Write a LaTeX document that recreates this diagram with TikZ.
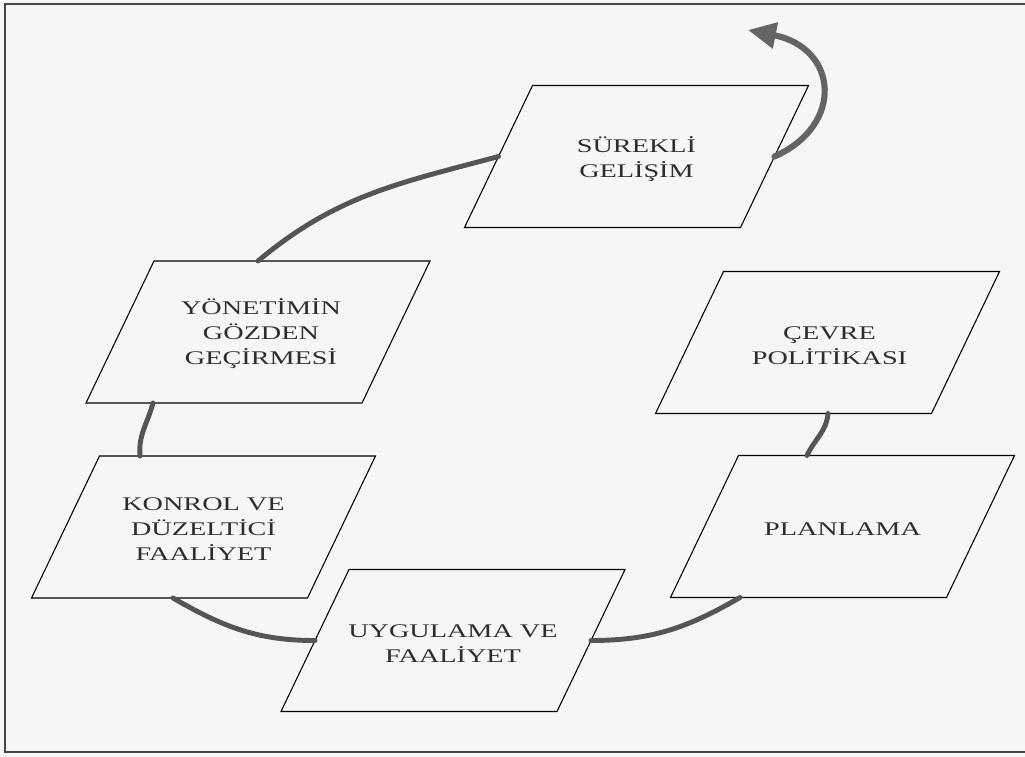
\documentclass[tikz,border=0pt]{standalone}
\usepackage{fontspec}
\setmainfont{Liberation Serif}[FakeStretch=1.46]
\usetikzlibrary{arrows.meta,calc}

\definecolor{paper}{RGB}{246,247,245}
\definecolor{framegray}{RGB}{70,70,70}
\definecolor{linkgray}{RGB}{85,85,85}
\definecolor{arrowgray}{RGB}{100,100,100}
\definecolor{inkgray}{RGB}{45,45,45}

\tikzset{
  stagebox/.style={rectangle, minimum width=207pt, minimum height=106.5pt,
    inner sep=0pt, outer sep=0pt},
  stageedge/.style={draw=black, line width=0.8pt, line join=miter},
  stagetext/.style={text=inkgray, align=center, inner sep=0pt,
    font=\fontsize{14.5pt}{18.75pt}\selectfont},
  link/.style={draw=linkgray, line width=3.7pt, line cap=round},
  loopback/.style={draw=arrowgray, line width=4.6pt, line cap=round,
    -{Triangle[length=21pt,width=19pt]}},
  frameline/.style={draw=framegray, line width=1.6pt}
}

% a slanted stage box: named frame, its parallelogram border and its label
\newcommand{\stage}[4]{%
  \node[stagebox] (#1) at (#2) {};
  \draw[stageedge] ($(#1.north west)+(34,0)$) -- ($(#1.north east)+(34,0)$)
    -- ($(#1.south east)+(-34,0)$) -- ($(#1.south west)+(-34,0)$) -- cycle;
  \node[stagetext] (#1-label) at ($(#1.center)+(#3)$) {#4};
}

\begin{document}
\begin{tikzpicture}[x=0.75pt,y=-0.75pt]
  % page and outer frame
  \fill[paper] (0,0) rectangle (1025,757);
  \useasboundingbox (0,0) rectangle (1025,757);
  \draw[frameline] (1030,4) -- (5,4) -- (5,752) -- (1030,752);

  % stages of the cycle
  \stage{sur}{636.5,156.5}{0,3}{SÜREKLİ\\GELİŞİM}
  \stage{yon}{258,332}{3,2}{YÖNETİMİN\\GÖZDEN\\GEÇİRMESİ}
  \stage{kon}{203.5,527}{0,2}{KONROL VE\\DÜZELTİCİ\\FAALİYET}
  \stage{uyg}{453,640.5}{0,3}{UYGULAMA VE\\FAALİYET}
  \stage{plan}{842.5,526.5}{0,3}{PLANLAMA}
  \stage{cev}{827.5,342.5}{2,3}{ÇEVRE\\POLİTİKASI}

  % attachment points on the stage borders
  \coordinate (yonB)  at ($(yon.south)+(-105,0)$);
  \coordinate (konT)  at ($(kon.north)+(-63.5,0)$);
  \coordinate (konB)  at ($(kon.south)+(-30.5,0)$);
  \coordinate (planB) at ($(plan.south)+(-102.5,0)$);
  \coordinate (planT) at ($(plan.north)+(-35.5,0)$);
  \coordinate (cevB)  at ($(cev.south)+(0.5,0)$);
  \coordinate (loopEnd) at (748,30);

  % connectors
  \draw[link] (cevB) to[out=265,in=65] (planT);
  \draw[link] (planB) to[out=210,in=0] (uyg.east);
  \draw[link] (uyg.west) to[out=180,in=-30] (konB);
  \draw[link] (konT) to[out=95,in=255] (yonB);
  \draw[link] (yon.north) to[out=40,in=195] (sur.west);

  % continuing improvement arrow
  \draw[loopback] (sur.east) .. controls (845,125) and (838,48) .. (loopEnd);
\end{tikzpicture}
\end{document}
